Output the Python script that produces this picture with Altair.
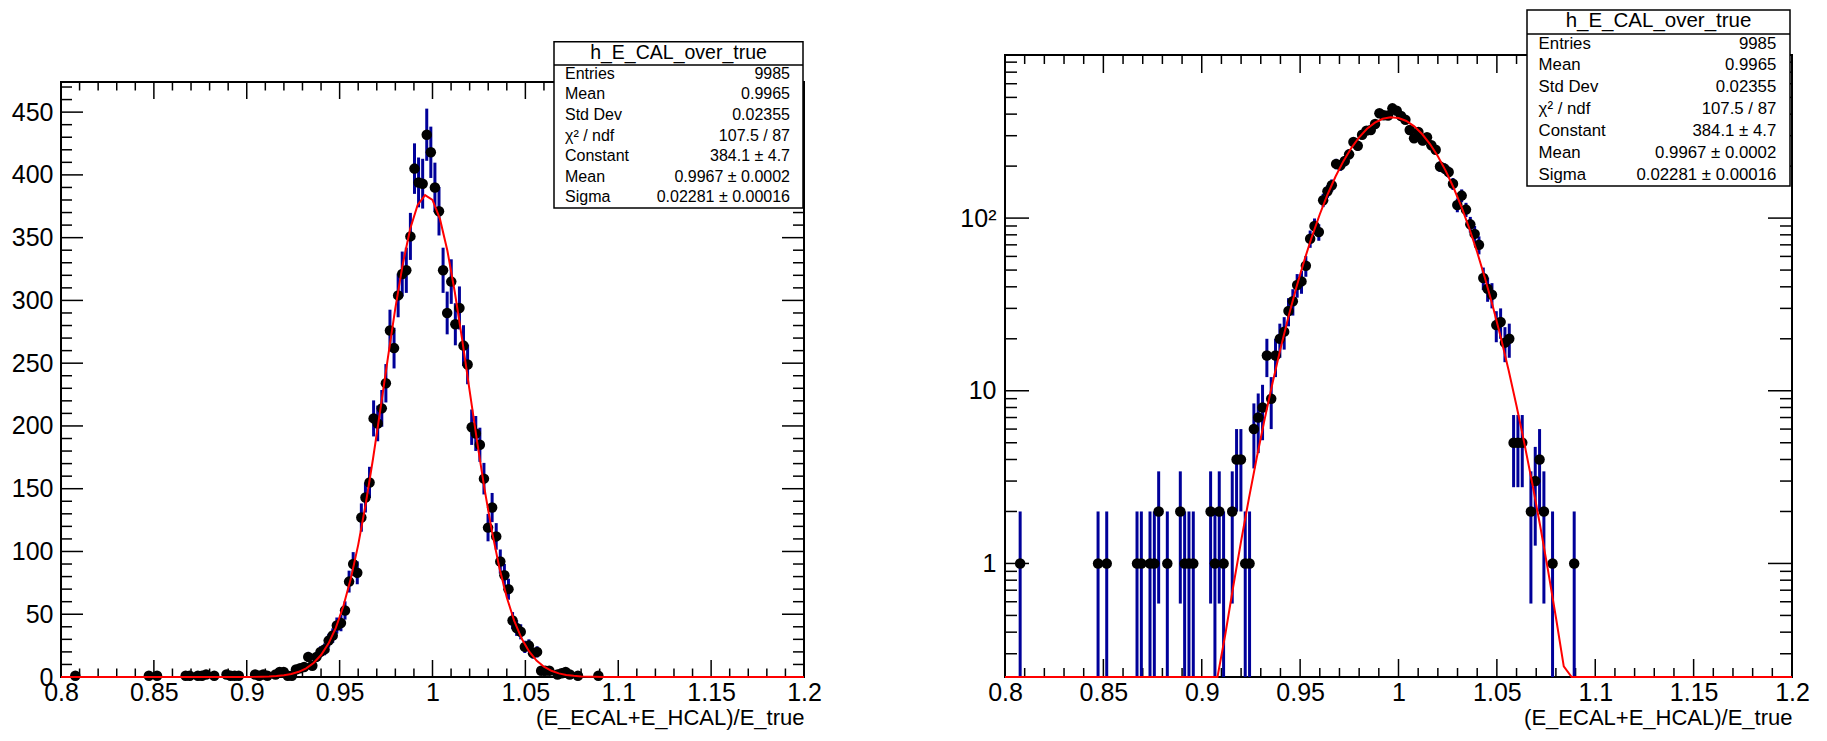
import altair as alt
import numpy as np
import pandas as pd

# ---------------- data ----------------
bin_centers = [0.8077, 0.8473, 0.8517, 0.8671, 0.8693, 0.8737, 0.8759, 0.8781, 0.8825,
               0.8891, 0.8913, 0.8935, 0.8957, 0.9045, 0.9067, 0.9089, 0.9111, 0.9155,
               0.9177, 0.9199, 0.9221, 0.9243, 0.9265, 0.9287, 0.9309, 0.9331, 0.9353,
               0.9375, 0.9397, 0.9419, 0.9441, 0.9463, 0.9485, 0.9507, 0.9529, 0.9551,
               0.9573, 0.9595, 0.9617, 0.9639, 0.9661, 0.9683, 0.9705, 0.9727, 0.9749,
               0.9771, 0.9793, 0.9815, 0.9837, 0.9859, 0.9881, 0.9903, 0.9925, 0.9947,
               0.9969, 0.9991, 1.0013, 1.0035, 1.0057, 1.0079, 1.0101, 1.0123, 1.0145,
               1.0167, 1.0189, 1.0211, 1.0233, 1.0255, 1.0277, 1.0299, 1.0321, 1.0343,
               1.0365, 1.0387, 1.0409, 1.0431, 1.0453, 1.0475, 1.0497, 1.0519, 1.0541,
               1.0563, 1.0585, 1.0607, 1.0629, 1.0673, 1.0695, 1.0717, 1.0739, 1.0783,
               1.0893]
counts = [1, 1, 1, 1, 1, 1, 1, 2, 1,
          2, 1, 1, 1, 2, 1, 2, 1, 2,
          4, 4, 1, 1, 6, 7, 8, 16, 9,
          16, 20, 22, 29, 33, 41, 43, 53, 76,
          90, 83, 127, 143, 155, 206, 202, 214, 234,
          276, 262, 304, 321, 324, 351, 405, 394, 393,
          432, 418, 390, 371, 324, 290, 315, 281, 294,
          264, 249, 199, 194, 185, 158, 119, 135, 112,
          92, 81, 70, 45, 39, 36, 24, 25, 19,
          20, 5, 5, 5, 2, 3, 4, 2, 1,
          1]

# Gaussian fit parameters (from the stats box)
fit_constant = 384.1
fit_mean = 0.9967
fit_sigma = 0.02281
fit_range = [0.8, 1.2]
fit_npx = 100

stat_title = "h_E_CAL_over_true"
stat_labels = ["Entries", "Mean", "Std Dev", "\u03c7\u00b2 / ndf", "Constant", "Mean", "Sigma"]
stat_values = ["9985", "0.9965", "0.02355", "107.5 / 87", "384.1 \u00b1 4.7",
               "0.9967 \u00b1 0.0002", "0.02281 \u00b1 0.00016"]

x_title = "(E_ECAL+E_HCAL)/E_true"
x_range = [0.8, 1.2]
x_major = [0.8, 0.85, 0.9, 0.95, 1.0, 1.05, 1.1, 1.15, 1.2]
x_minor = [0.81, 0.82, 0.83, 0.84, 0.86, 0.87, 0.88, 0.89, 0.91, 0.92, 0.93, 0.94,
           0.96, 0.97, 0.98, 0.99, 1.01, 1.02, 1.03, 1.04, 1.06, 1.07, 1.08, 1.09,
           1.11, 1.12, 1.13, 1.14, 1.16, 1.17, 1.18, 1.19]

lin_y_range = [0, 474]
lin_y_major = [0, 50, 100, 150, 200, 250, 300, 350, 400, 450]
lin_y_minor = [10, 20, 30, 40, 60, 70, 80, 90, 110, 120, 130, 140, 160, 170, 180, 190,
               210, 220, 230, 240, 260, 270, 280, 290, 310, 320, 330, 340, 360, 370,
               380, 390, 410, 420, 430, 440, 460, 470]

log_y_range = [0.22, 880]
log_y_major = [1, 10, 100]
log_y_minor = [0.3, 0.4, 0.5, 0.6, 0.7, 0.8, 0.9, 2, 3, 4, 5, 6, 7, 8, 9,
               20, 30, 40, 50, 60, 70, 80, 90, 200, 300, 400, 500, 600, 700, 800]

# ---------------- styles ----------------
FONT = "Liberation Sans"
ERR_COLOR = "#000099"
FIT_COLOR = "#ff0000"
LABEL_SIZE = 25
TITLE_SIZE = 22


def tick_layers(X, Y, y_dom, y_major, y_minor, ly, lx):
    layers = []
    x0, x1 = x_range
    y0, y1 = y_dom
    mk = dict(color="black", strokeWidth=1.5)
    for vals, L in ((y_major, ly), (y_minor, ly / 2)):
        d = pd.DataFrame({"t": vals, "a": [x0] * len(vals), "b": [x1] * len(vals)})
        layers.append(alt.Chart(d).mark_rule(x2Offset=L, **mk).encode(
            x=X("a:Q"), x2="a", y=Y("t:Q")))
        layers.append(alt.Chart(d).mark_rule(xOffset=-L, **mk).encode(
            x=X("b:Q"), x2="b", y=Y("t:Q")))
    for vals, L in ((x_major, lx), (x_minor, lx / 2)):
        d = pd.DataFrame({"t": vals, "a": [y0] * len(vals), "b": [y1] * len(vals)})
        layers.append(alt.Chart(d).mark_rule(y2Offset=-L, **mk).encode(
            x=X("t:Q"), y=Y("a:Q"), y2="a"))
        layers.append(alt.Chart(d).mark_rule(y2Offset=L, **mk).encode(
            x=X("t:Q"), y=Y("b:Q"), y2="b"))
    return layers


def stats_layers(bx0, bx1, by0, by1, sep_y, title_base, row_base, row_dy, lab_x, val_x,
                 title_size, row_size):
    one = pd.DataFrame({"k": [0]})
    txt = dict(font=FONT, color="black", baseline="alphabetic")
    return [
        alt.Chart(one).mark_rect(fill="white", stroke="black", strokeWidth=1.5).encode(
            x=alt.value(bx0), x2=alt.value(bx1), y=alt.value(by0), y2=alt.value(by1)),
        alt.Chart(one).mark_rule(color="black", strokeWidth=1.5).encode(
            x=alt.value(bx0), x2=alt.value(bx1), y=alt.value(sep_y)),
        alt.Chart(one).mark_text(text=stat_title, fontSize=title_size, align="center", **txt).encode(
            x=alt.value((bx0 + bx1) / 2), y=alt.value(title_base)),
        alt.Chart(one).mark_text(text=stat_labels, fontSize=row_size, lineHeight=row_dy,
                                 align="left", **txt).encode(
            x=alt.value(lab_x), y=alt.value(row_base)),
        alt.Chart(one).mark_text(text=stat_values, fontSize=row_size, lineHeight=row_dy,
                                 align="right", **txt).encode(
            x=alt.value(val_x), y=alt.value(row_base)),
    ]


def make_panel(log, width, height, y_dom, y_px, y_major, y_minor, ly, lx, box, anchor=False):
    ymin, ymax = y_dom
    df = pd.DataFrame({"x": bin_centers, "n": counts})
    err = np.sqrt(df["n"])
    df["lo"] = df["n"] - err
    df["hi"] = df["n"] + err
    if log:
        df["lo"] = df["lo"].clip(lower=ymin)

    fx = np.linspace(fit_range[0], fit_range[1], fit_npx + 1)
    fy = fit_constant * np.exp(-0.5 * ((fx - fit_mean) / fit_sigma) ** 2)
    if log:
        fy = np.maximum(fy, ymin)
    fdf = pd.DataFrame({"x": fx, "y": fy})

    xs = alt.Scale(domain=x_range, nice=False, zero=False)
    ys = alt.Scale(type="log" if log else "linear", domain=y_dom, range=y_px,
                   nice=False, zero=False)

    xaxis = alt.Axis(values=x_major, format="~g", ticks=False, domain=False, grid=False,
                     labelFlush=False, labelOverlap=False, labelFont=FONT,
                     labelFontSize=LABEL_SIZE, labelColor="black", labelPadding=3,
                     title=x_title, titleFont=FONT, titleFontSize=TITLE_SIZE,
                     titleFontWeight="normal", titleColor="black", titleAnchor="end",
                     titleAlign="right", titlePadding=2)
    if log:
        yaxis = alt.Axis(values=y_major, ticks=False, domain=False, grid=False,
                         labelExpr="datum.value >= 100 ? '10\u00b2' : (datum.value >= 10 ? '10' : '1')",
                         labelFlush=False, labelOverlap=False, labelFont=FONT,
                         labelFontSize=LABEL_SIZE, labelColor="black", labelPadding=9,
                         title="")
    else:
        yaxis = alt.Axis(values=y_major, format="d", ticks=False, domain=False, grid=False,
                         labelFlush=False, labelOverlap=False, labelFont=FONT,
                         labelFontSize=LABEL_SIZE, labelColor="black", labelPadding=8,
                         title="")

    def X(f):
        return alt.X(f, scale=xs, axis=xaxis)

    def Y(f):
        return alt.Y(f, scale=ys, axis=yaxis)

    frame_df = pd.DataFrame({"x0": [x_range[0]], "x1": [x_range[1]], "y0": [ymin], "y1": [ymax]})
    frame = alt.Chart(frame_df).mark_rect(fillOpacity=0, stroke="black", strokeWidth=2).encode(
        x=X("x0:Q"), x2="x1", y=Y("y0:Q"), y2="y1")

    bars = alt.Chart(df).mark_rule(color=ERR_COLOR, strokeWidth=3).encode(
        x=X("x:Q"), y=Y("lo:Q"), y2="hi")
    pts = alt.Chart(df).mark_circle(color="black", size=110, opacity=1).encode(
        x=X("x:Q"), y=Y("n:Q"))
    curve = alt.Chart(fdf).mark_line(color=FIT_COLOR, strokeWidth=2).encode(
        x=X("x:Q"), y=Y("y:Q"))

    layers = [frame] + tick_layers(X, Y, y_dom, y_major, y_minor, ly, lx) + [bars, pts, curve]
    layers += stats_layers(**box)
    if anchor:
        one = pd.DataFrame({"k": [0]})
        layers.append(alt.Chart(one).mark_rule(color="white", strokeWidth=1).encode(
            x=alt.value(-60.5), x2=alt.value(-59.5), y=alt.value(-8.5)))
    return alt.layer(*layers).properties(width=width, height=height)


left_box = dict(bx0=493, bx1=742, by0=32.7, by1=199, sep_y=56, title_base=49.8,
                row_base=69.8, row_dy=20.57, lab_x=504, val_x=729,
                title_size=19.5, row_size=16)
right_box = dict(bx0=522, bx1=785, by0=1, by1=177, sep_y=25, title_base=18.2,
                 row_base=39.6, row_dy=21.9, lab_x=533.6, val_x=771.3,
                 title_size=20.5, row_size=16.8)

left = make_panel(False, 743, 668, lin_y_range, [668, 73], lin_y_major, lin_y_minor,
                  22, 17, left_box, anchor=True)
right = make_panel(True, 787, 668, log_y_range, [668, 46], log_y_major, log_y_minor,
                   24, 18, right_box)

chart = alt.hconcat(left, right, spacing=201, bounds="flush").properties(
    padding={"left": 0, "top": 0, "right": 0, "bottom": 12},
    background="white",
).configure_view(stroke="transparent", strokeWidth=0)

chart.save("out.html", embed_options={"renderer": "svg", "actions": False})
